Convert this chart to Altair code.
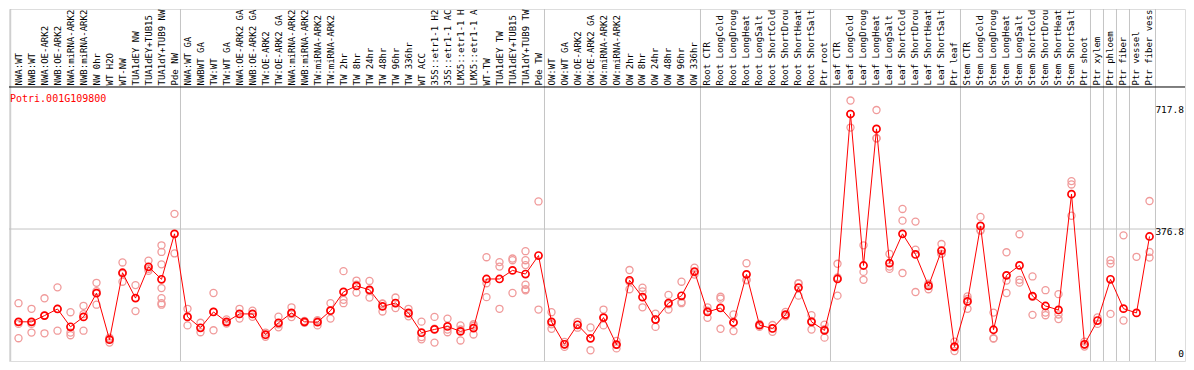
import altair as alt
import pandas as pd

samples = [
    "NWA:WT", "NWB:WT", "NWA:OE-ARK2", "NWB:OE-ARK2", "NWA:miRNA-ARK2", "NWB:miRNA-ARK2",
    "NW 0hr", "WT H2O", "WT-NW", "TUA1dEY NW", "TUA1dEY+TUB15 NW", "TUA1dY+TUB9 NW", "Pde NW",
    "NWA:WT GA", "NWBWT GA", "TW:WT", "TW:WT GA", "NWA:OE-ARK2 GA", "NWB:OE-ARK2 GA",
    "TW:OE-ARK2", "TW:OE-ARK2 GA", "NWA:miRNA-ARK2 GA", "NWB:miRNA-ARK2 GA", "TW:miRNA-ARK2",
    "TW:miRNA-ARK2 GA", "TW 2hr", "TW 8hr", "TW 24hr", "TW 48hr", "TW 96hr", "TW 336hr",
    "WT ACC", "35S::etr1-1 H2O", "35S::etr1-1 ACC", "LMX5::etr1-1 H2O", "LMX5::etr1-1 ACC",
    "WT-TW", "TUA1dEY TW", "TUA1dEY+TUB15 TW", "TUA1dY+TUB9 TW", "Pde TW",
    "OW:WT", "OW:WT GA", "OW:OE-ARK2", "OW:OE-ARK2 GA", "OW:miRNA-ARK2", "OW:miRNA-ARK2 GA",
    "OW 2hr", "OW 8hr", "OW 24hr", "OW 48hr", "OW 96hr", "OW 336hr",
    "Root CTR", "Root LongCold", "Root LongDrought", "Root LongHeat", "Root LongSalt",
    "Root ShortCold", "Root ShortDrought", "Root ShortHeat", "Root ShortSalt", "Ptr root",
    "Leaf CTR", "Leaf LongCold", "Leaf LongDrought", "Leaf LongHeat", "Leaf LongSalt",
    "Leaf ShortCold", "Leaf ShortDrought", "Leaf ShortHeat", "Leaf ShortSalt", "Ptr leaf",
    "Stem CTR", "Stem LongCold", "Stem LongDrought", "Stem LongHeat", "Stem LongSalt",
    "Stem ShortCold", "Stem ShortDrought", "Stem ShortHeat", "Stem ShortSalt", "Ptr shoot",
    "Ptr xylem", "Ptr phloem", "Ptr fiber", "Ptr vessel", "Ptr fiber vessel",
]

means = [
    130.5, 130.5, 147, 164.6, 117.3, 143.6, 206.6, 83.2, 260.8, 193.5, 276.6, 243.4, 364,
    143.6, 114.7, 156.7, 130.5, 151.5, 151.5, 96.3, 127.9, 154, 130.5, 129.6, 160,
    210, 225.8, 215.3, 171.5, 180.4, 154, 101.6, 110.3, 118.2, 105, 113.8,
    244.2, 244.2, 267, 257.3, 306.4,
    130.5, 70.9, 122.6, 86.7, 141.8, 70, 240.8, 196.1, 136.6, 180.4, 199.6, 264,
    156.7, 167.3, 128.7, 256.5, 121.6, 112.9, 149.7, 221.4, 130.5, 107.7,
    244.2, 682, 280, 642.5, 286.2, 364, 309.3, 225.8, 319.6, 64.8,
    184.7, 385, 109.5, 253.9, 280.2, 198.8, 172.5, 162, 469.3, 70.9,
    133.9, 243.4, 165.4, 154.1, 357,
]

replicates = [
    [180, 125, 87], [165, 125, 102], [193, 147, 100], [222, 165, 107], [156, 102, 95],
    [173, 151, 107], [234, 212, 176], [88.5, 86, 75.4], [288, 258, 237], [228, 159],
    [293, 271, 266], [333.5, 316, 283, 220, 193.5, 180, 176], [417, 312],
    [165, 144, 121], [128, 103], [207, 157, 108], [137, 129, 126], [165, 151, 139],
    [160, 151, 144], [102, 96, 91], [144, 124, 116], [169, 151, 143], [133, 130, 128],
    [135, 133, 121], [180, 161, 139], [265, 189, 180], [240, 229, 208], [239, 212, 195],
    [179, 178, 158], [195, 180, 167], [165, 152, 145], [131, 90, 84], [143.6, 112, 75.4],
    [139, 110, 103], [121, 110, 81], [124, 120, 97], [302, 233, 196], [289, 277, 165],
    [298.5, 294, 207], [318, 294, 281, 229, 217, 214], [450, 163],
    [156, 124, 112], [77, 71, 64], [130.5, 123, 115], [115.5, 55], [163, 142, 121],
    [80, 70, 60], [268, 237, 217], [221, 211, 169], [152, 137, 117], [202, 177, 163],
    [237, 183, 180], [274, 262, 256],
    [169, 160, 141], [197, 192, 112], [150, 130, 106], [286, 242, 241], [125, 122, 117],
    [122, 113, 104], [157, 148, 145], [233, 232, 200], [148, 133, 110], [123, 111, 88.5],
    [284.5, 248, 200], [717.8, 682, 646], [333.5, 263, 242], [692.5, 618, 617],
    [310.6, 277, 271], [430, 399, 260], [396.5, 322, 209.5], [232, 228, 217],
    [337, 311, 311], [78, 63, 53],
    [198, 191, 165], [409, 374, 372], [155, 87, 86], [315, 240, 207], [363, 242, 234.5],
    [251, 197, 149], [214.5, 155, 148], [204, 150, 138], [504, 495, 412], [78, 70, 65],
    [142, 125], [294, 285, 151.5], [360, 134, 8], [303, 8], [451, 316, 301],
]

gene = "Potri.001G109800"
separators_after = ["Pde NW", "Pde TW", "OW 336hr", "Ptr root", "Ptr leaf", "Ptr shoot",
                    "Ptr xylem", "Ptr phloem", "Ptr fiber", "Ptr fiber vessel"]
axis_labels = [717.8, 376.8, 0]
header_level = 753.7

FONT = "DejaVu Sans Mono"
MEAN_RED = "#ff0000"
REP_PINK = "#f09a9a"
GRID = "#c4c4c4"

idx = list(range(len(samples)))
mean_df = pd.DataFrame({"idx": idx, "sample": samples, "mean": means})
rep_df = pd.DataFrame(
    [{"idx": i, "sample": s, "value": v}
     for i, (s, reps) in enumerate(zip(samples, replicates)) for v in reps]
)
label_df = pd.DataFrame({"idx": idx, "label": [s[:14] for s in samples]})
sep_df = pd.DataFrame({"pos": [-0.6] + [samples.index(s) + 0.46 for s in separators_after]})

xs = alt.Scale(domain=[-0.7308, 89.7308], nice=False, zero=False)
ys = alt.Scale(domain=[26.54, 960.7], nice=False, zero=False)

vgrid = alt.Chart(sep_df).mark_rule(color=GRID, strokeWidth=1).encode(
    x=alt.X("pos:Q", scale=xs, axis=None)
)
hgrid = alt.Chart(pd.DataFrame({"v": [axis_labels[1]]})).mark_rule(color=GRID, strokeWidth=1).encode(
    y=alt.Y("v:Q", scale=ys, axis=None)
)
header_line = alt.Chart(pd.DataFrame({"v": [header_level]})).mark_rule(color="black", strokeWidth=1).encode(
    y=alt.Y("v:Q", scale=ys, axis=None)
)

reps = alt.Chart(rep_df).mark_point(
    shape="circle", filled=False, color=REP_PINK, size=50, strokeWidth=1.3, opacity=1, clip=True
).encode(
    x=alt.X("idx:Q", scale=xs, axis=None),
    y=alt.Y("value:Q", scale=ys, axis=None),
)
line = alt.Chart(mean_df).mark_line(color=MEAN_RED, strokeWidth=1, clip=True).encode(
    x=alt.X("idx:Q", scale=xs, axis=None),
    y=alt.Y("mean:Q", scale=ys, axis=None),
)
pts = alt.Chart(mean_df).mark_point(
    shape="circle", filled=False, color=MEAN_RED, size=50, strokeWidth=1.7, opacity=1, clip=True
).encode(
    x=alt.X("idx:Q", scale=xs, axis=None),
    y=alt.Y("mean:Q", scale=ys, axis=None),
)

labels = alt.Chart(label_df).mark_text(
    angle=270, align="left", baseline="middle", font=FONT, fontSize=9, color="black"
).encode(
    x=alt.X("idx:Q", scale=xs, axis=None),
    y=alt.value(76.5),
    text="label:N",
)

title = alt.Chart(pd.DataFrame({"t": [gene]})).mark_text(
    align="left", baseline="middle", font=FONT, fontSize=10, color=MEAN_RED
).encode(x=alt.value(1), y=alt.value(90), text="t:N")

axis_layers = []
for val, dy in zip(axis_labels, [9, 3, -17]):
    axis_layers.append(
        alt.Chart(pd.DataFrame({"v": [val], "t": [f"{val:g}" if val == 0 else f"{val:.1f}"]}))
        .mark_text(align="right", baseline="middle", font=FONT, fontSize=9.5, color="black", dy=dy)
        .encode(x=alt.value(1175), y=alt.Y("v:Q", scale=ys, axis=None), text="t:N")
    )

chart = alt.layer(vgrid, hgrid, header_line, reps, line, pts, labels, title, *axis_layers).properties(
    width=1176,
    height=352,
    padding={"left": 1, "top": 1, "right": 1, "bottom": 1},
    autosize=alt.AutoSizeParams(type="none"),
).configure_view(stroke="black", strokeWidth=1).configure(background="white")

chart.save("out.html", embed_options={"renderer": "svg", "actions": False})
